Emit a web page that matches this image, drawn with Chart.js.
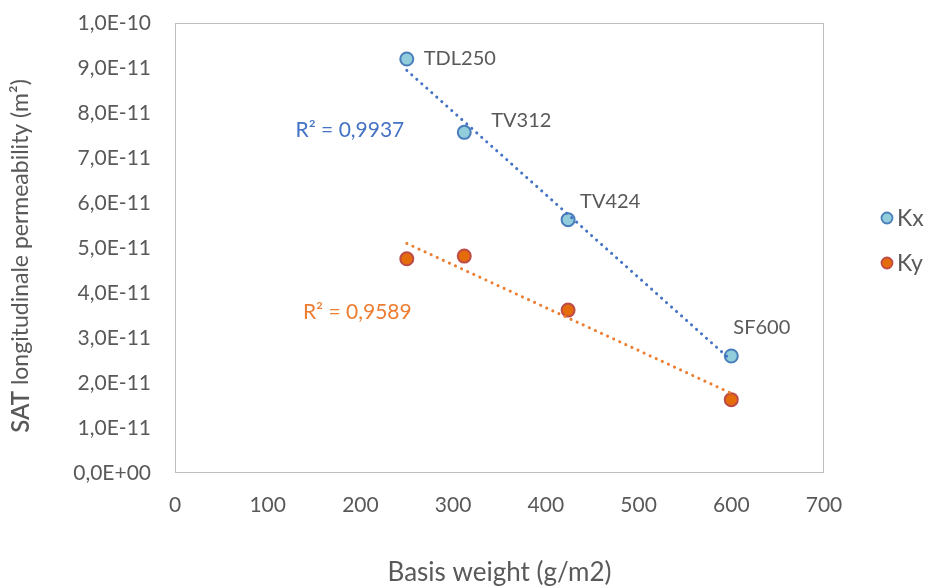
<!DOCTYPE html>
<html>
<head>
<meta charset="utf-8">
<script src="https://cdn.jsdelivr.net/npm/chart.js@4.4.0/dist/chart.umd.min.js"></script>
<style>
  html, body { margin: 0; padding: 0; background: #fff; }
  #wrap { width: 927px; height: 586px; }
</style>
</head>
<body>
<div id="wrap"><canvas id="chart"></canvas></div>
<script>
// Values
const fabricNames = ['TDL250', 'TV312', 'TV424', 'SF600'];
const basisWeight = [250, 312, 424, 600];
const kxValues = [9.2e-11, 7.57e-11, 5.63e-11, 2.6e-11];
const kyValues = [4.76e-11, 4.82e-11, 3.62e-11, 1.63e-11];
const rSquared = [0.9937, 0.9589];
const xTickValues = [0, 100, 200, 300, 400, 500, 600, 700];
const yTickValues = [0, 1e-11, 2e-11, 3e-11, 4e-11, 5e-11, 6e-11, 7e-11, 8e-11, 9e-11, 1e-10];

const textColor = '#595959';
const fontFamily = 'Lato, "Open Sans", sans-serif';

// label offsets from each Kx point (px)
const labelOffsets = [[17, 0], [27, -12], [12, -18], [2, -28]];

// Linear trendline over the fitted range
function trend(xs, ys) {
  const n = xs.length;
  const mx = xs.reduce((a, b) => a + b, 0) / n;
  const my = ys.reduce((a, b) => a + b, 0) / n;
  let sxy = 0, sxx = 0;
  for (let i = 0; i < n; i++) {
    sxy += (xs[i] - mx) * (ys[i] - my);
    sxx += (xs[i] - mx) * (xs[i] - mx);
  }
  const slope = sxy / sxx;
  const x0 = Math.min(...xs), x1 = Math.max(...xs);
  return [
    { x: x0, y: my + slope * (x0 - mx) },
    { x: x1, y: my + slope * (x1 - mx) },
  ];
}

// 1,0E-10 style
function sciComma(v) {
  if (Math.abs(v) < 1e-20) return '0,0E+00';
  let exp = Math.floor(Math.log10(Math.abs(v)) + 1e-9);
  let mant = v / Math.pow(10, exp);
  if (mant >= 9.95) { mant /= 10; exp++; }
  const sign = exp < 0 ? '-' : '+';
  const e = String(Math.abs(exp)).padStart(2, '0');
  return mant.toFixed(1).replace('.', ',') + 'E' + sign + e;
}

function rText(r) {
  return 'R\u00B2 = ' + r.toFixed(4).replace('.', ',');
}

const kxPoints = basisWeight.map((x, i) => ({ x, y: kxValues[i] }));
const kyPoints = basisWeight.map((x, i) => ({ x, y: kyValues[i] }));

const series = [
  { label: 'Kx', fill: '#92CDDC', border: '#4A7EBB', trendColor: '#4472C4' },
  { label: 'Ky', fill: '#E46C0A', border: '#BE4B48', trendColor: '#ED7D31' },
];

const overlayPlugin = {
  id: 'overlay',
  beforeDatasetsDraw(chart) {
    const { ctx, chartArea: a } = chart;
    ctx.save();
    ctx.strokeStyle = '#BFBFBF';
    ctx.lineWidth = 1;
    ctx.strokeRect(a.left + 0.5, a.top + 0.5, a.right - a.left - 1, a.bottom - a.top - 1);
    ctx.restore();
  },
  afterDatasetsDraw(chart) {
    const { ctx, chartArea: a, scales } = chart;
    const xs = scales.x, ys = scales.y;
    ctx.save();

    // point labels on Kx
    ctx.font = '20px ' + fontFamily;
    ctx.fillStyle = textColor;
    ctx.textAlign = 'left';
    ctx.textBaseline = 'middle';
    fabricNames.forEach((name, i) => {
      const px = xs.getPixelForValue(basisWeight[i]);
      const py = ys.getPixelForValue(kxValues[i]);
      ctx.fillText(name, px + labelOffsets[i][0], py + labelOffsets[i][1]);
    });

    // R² labels
    ctx.font = '21px ' + fontFamily;
    ctx.fillStyle = series[0].trendColor;
    ctx.fillText(rText(rSquared[0]), xs.getPixelForValue(130), ys.getPixelForValue(7.62e-11));
    ctx.fillStyle = series[1].trendColor;
    ctx.fillText(rText(rSquared[1]), xs.getPixelForValue(138), ys.getPixelForValue(3.58e-11));

    // legend
    const midY = (a.top + a.bottom) / 2;
    series.forEach((s, i) => {
      const cx = a.right + 63;
      const cy = midY - 30 + i * 45;
      ctx.beginPath();
      ctx.arc(cx, cy, 5.5, 0, Math.PI * 2);
      ctx.fillStyle = s.fill;
      ctx.fill();
      ctx.lineWidth = 1.8;
      ctx.strokeStyle = s.border;
      ctx.stroke();
      ctx.fillStyle = textColor;
      ctx.font = '23px ' + fontFamily;
      ctx.fillText(s.label, cx + 10, cy + 1);
    });

    // y axis title, "SAT" slightly larger
    const big = '600 24px ' + fontFamily;
    const small = '23px ' + fontFamily;
    const partA = 'SAT';
    const partB = ' longitudinale permeability (m\u00B2)';
    ctx.font = big;
    const wA = ctx.measureText(partA).width;
    ctx.font = small;
    const wB = ctx.measureText(partB).width;
    ctx.translate(21, midY + 8);
    ctx.rotate(-Math.PI / 2);
    ctx.fillStyle = textColor;
    ctx.textBaseline = 'middle';
    let start = -(wA + wB) / 2;
    ctx.font = big;
    ctx.fillText(partA, start, 0);
    ctx.font = small;
    ctx.fillText(partB, start + wA, 0);
    ctx.restore();
  }
};

const ctx = document.getElementById('chart').getContext('2d');
new Chart(ctx, {
  type: 'scatter',
  data: {
    datasets: [
      {
        label: 'Kx trend',
        data: trend(basisWeight, kxValues),
        showLine: true,
        borderColor: series[0].trendColor,
        borderWidth: 3,
        borderDash: [0.1, 6.6],
        borderCapStyle: 'round',
        pointRadius: 0,
        order: 0,
      },
      {
        label: 'Ky trend',
        data: trend(basisWeight, kyValues),
        showLine: true,
        borderColor: series[1].trendColor,
        borderWidth: 3,
        borderDash: [0.1, 6.6],
        borderCapStyle: 'round',
        pointRadius: 0,
        order: 0,
      },
      {
        label: series[0].label,
        data: kxPoints,
        backgroundColor: series[0].fill,
        borderColor: series[0].border,
        borderWidth: 2,
        pointRadius: 6.5,
        order: 1,
      },
      {
        label: series[1].label,
        data: kyPoints,
        backgroundColor: series[1].fill,
        borderColor: series[1].border,
        borderWidth: 2,
        pointRadius: 6.5,
        order: 1,
      },
    ],
  },
  options: {
    responsive: true,
    maintainAspectRatio: false,
    animation: false,
    layout: {
      padding: { top: 23, right: 103, left: 0, bottom: 0 },
    },
    plugins: {
      legend: { display: false },
      tooltip: { enabled: false },
    },
    scales: {
      x: {
        type: 'linear',
        min: 0,
        max: 700,
        afterBuildTicks: (scale) => { scale.ticks = xTickValues.map(v => ({ value: v })); },
        afterFit: (scale) => { scale.height = 113; },
        grid: { display: false, drawTicks: false },
        border: { display: false },
        ticks: {
          color: textColor,
          font: { family: fontFamily, size: 21 },
          padding: 20,
          maxRotation: 0,
        },
        title: {
          display: true,
          text: 'Basis weight (g/m2)',
          color: textColor,
          font: { family: fontFamily, size: 26, lineHeight: 1 },
          padding: { top: 0, bottom: 0 },
        },
      },
      y: {
        type: 'linear',
        min: 0,
        max: 1e-10,
        afterBuildTicks: (scale) => { scale.ticks = yTickValues.map(v => ({ value: v })); },
        afterFit: (scale) => {
          scale.width = 175;
          scale.paddingTop = 10;
          scale.paddingBottom = 0;
        },
        grid: { display: false, drawTicks: false },
        border: { display: false },
        ticks: {
          color: textColor,
          font: { family: fontFamily, size: 21 },
          padding: 24,
          callback: (v) => sciComma(v),
        },
      },
    },
  },
  plugins: [overlayPlugin],
});
</script>
</body>
</html>
